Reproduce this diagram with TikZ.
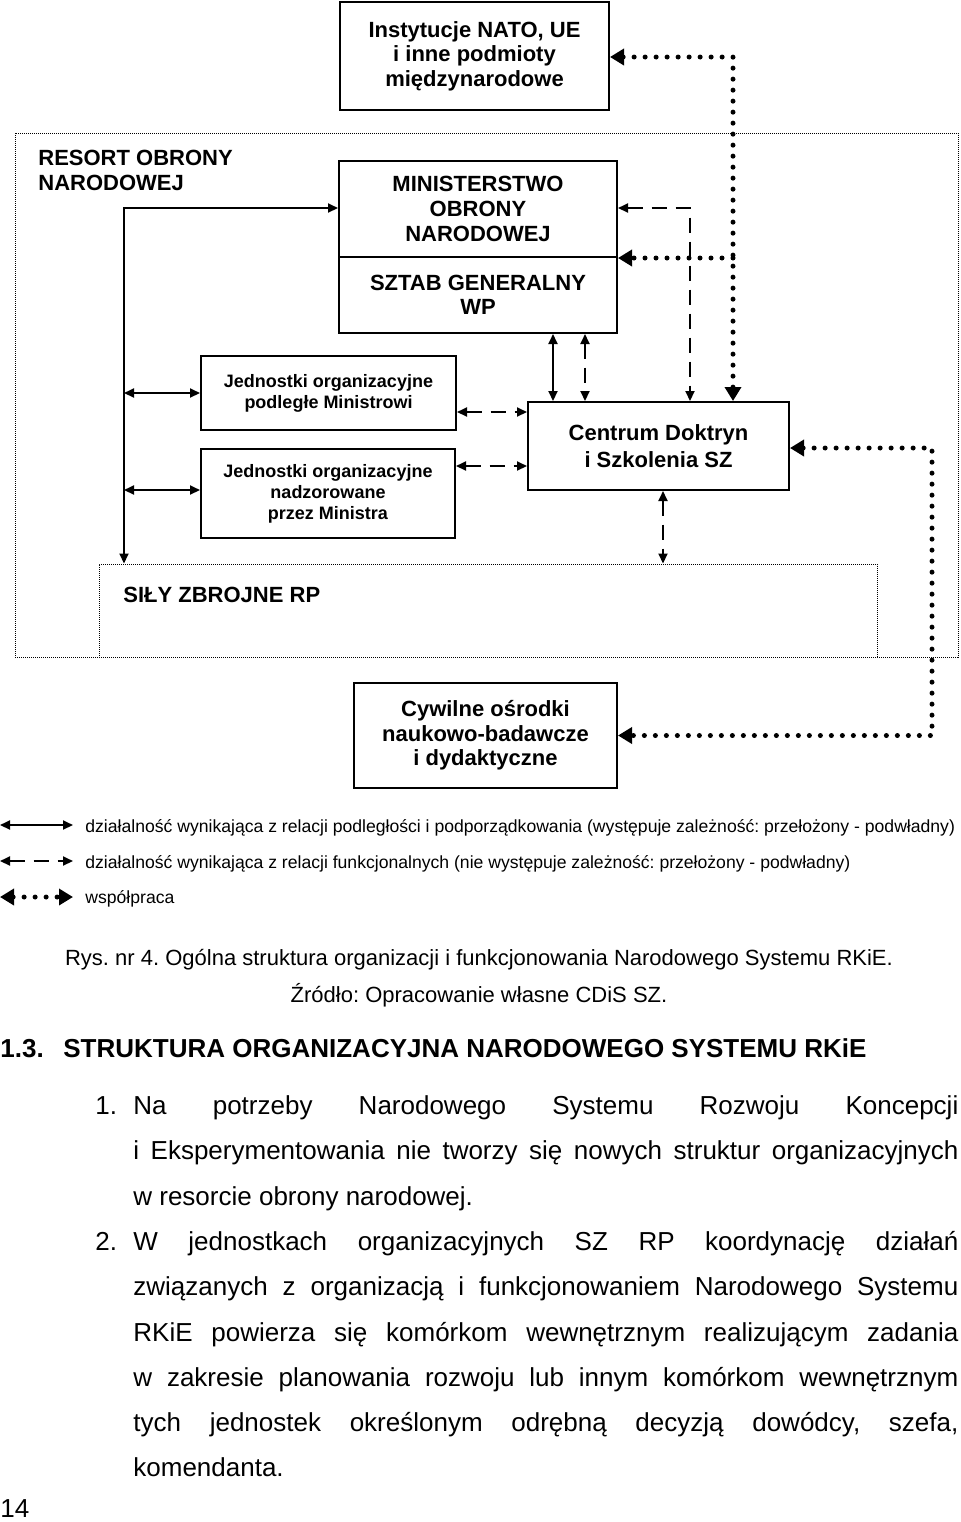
\documentclass[tikz,border=0pt]{standalone}
\usepackage{fontspec}
\setmainfont{Liberation Sans}
\usetikzlibrary{arrows.meta}
\frenchspacing

% one justified line of the running text
\newcommand{\jline}[1]{\makebox[412.5pt][s]{#1}}

\begin{document}
\begin{tikzpicture}[x=0.5pt, y=-0.5pt, >={Triangle[length=5pt,width=4.5pt]},
    box/.style={draw, line width=1pt, inner sep=0pt, align=center, font=\bfseries\fontsize{11}{12.3}\selectfont},
    unitbox/.style={box, font=\bfseries\fontsize{9}{10.5}\selectfont},
    area/.style={draw=black, line width=0.5pt, dash pattern=on 0.5pt off 0.5pt, inner sep=0pt},
    sub/.style={line width=1pt},
    fun/.style={line width=1pt, dash pattern=on 7.5pt off 4.5pt},
    coop/.style={line width=2.5pt, line cap=round, dash pattern=on 0pt off 5.5pt, >={Triangle[length=7pt,width=8pt]}},
    legtext/.style={anchor=base west, inner sep=0pt, font=\fontsize{8.8}{10}\selectfont},
    bodyline/.style={anchor=base west, inner sep=0pt, font=\fontsize{13}{15}\selectfont}]

    % page size
    \useasboundingbox (0,0) rectangle (960,1522);

    % Resort area and armed forces area (thin dotted frames)
    \node[area, minimum width=471.5pt, minimum height=262pt] (resort) at (486.5,395) {};
    \node[area, minimum width=389pt, minimum height=46.5pt] (sz) at (488,610.5) {};
    \node[anchor=base west, inner sep=0pt, align=left, font=\bfseries\fontsize{11}{12.3}\selectfont] (resortlabel) at (38,190) {RESORT OBRONY\\NARODOWEJ};
    \node[anchor=base west, inner sep=0pt, font=\bfseries\fontsize{11}{12.3}\selectfont] (szlabel) at (123,602) {SIŁY ZBROJNE RP};

    % Boxes
    \node[box, minimum width=134.5pt, minimum height=54pt] (nato) at (474.5,56) {Instytucje NATO, UE\\i inne podmioty\\międzynarodowe};
    \node[box, minimum width=139pt, minimum height=48pt] (mon) at (478,209) {MINISTERSTWO\\OBRONY\\NARODOWEJ};
    \node[box, minimum width=139pt, minimum height=38pt] (sgwp) at (478,295) {SZTAB GENERALNY\\WP};
    \node[unitbox, minimum width=127.5pt, minimum height=37pt] (jopm) at (328.5,393) {Jednostki organizacyjne\\podległe Ministrowi};
    \node[unitbox, minimum width=127pt, minimum height=44.5pt] (jonm) at (328,493.5) {Jednostki organizacyjne\\nadzorowane\\przez Ministra};
    \node[box, font=\bfseries\fontsize{11}{13.5}\selectfont, minimum width=130.5pt, minimum height=44pt] (cdis) at (658.5,446) {Centrum Doktryn\\i Szkolenia SZ};
    \node[box, minimum width=131.5pt, minimum height=52.5pt] (cyw) at (485.5,735.5) {Cywilne ośrodki\\naukowo-badawcze\\i dydaktyczne};

    % Bend points of the connectors
    \coordinate (lbus) at (124,208);
    \coordinate (lj2) at (124,490);
    \coordinate (fj1) at (456,412);
    \coordinate (fj2) at (456,466);
    \coordinate (sc1) at (553,0);
    \coordinate (sc2) at (585,0);
    \coordinate (fbus) at (690,208);
    \coordinate (cbus) at (733,57);
    \coordinate (rbus) at (932,448);
    \coordinate (cs) at (663,0);

    % Subordination (solid)
    \draw[sub, <->] (mon.west |- lbus) -- (lbus) -- (lbus |- sz.north);
    \draw[sub, <->] (lbus |- jopm.west) -- (jopm.west);
    \draw[sub, <->] (lj2) -- (lj2 -| jonm.west);
    \draw[sub, <->] (sc1 |- sgwp.south) -- (sc1 |- cdis.north);

    % Functional relations (dashed)
    \draw[fun, <->] (fj1 -| jopm.east) -- (fj1 -| cdis.west);
    \draw[fun, <->] (fj2 -| jonm.east) -- (fj2 -| cdis.west);
    \draw[fun, <->] (sc2 |- sgwp.south) -- (sc2 |- cdis.north);
    \draw[fun, <->] (fbus -| mon.east) -- (fbus) -- (fbus |- cdis.north);
    \draw[fun, <->] (cs |- cdis.south) -- (cs |- sz.north);

    % Cooperation (dotted)
    \draw[coop, <->] (cbus -| nato.east) -- (cbus) -- (cbus |- cdis.north);
    \draw[coop, ->] (cbus |- mon.south) -- (mon.south east);
    \draw[coop, <->] (rbus -| cdis.east) -- (rbus) -- (rbus |- cyw.east) -- (cyw.east);

    % Legend
    \coordinate (lega) at (0,825);
    \coordinate (legb) at (0,861);
    \coordinate (legc) at (0,897);
    \draw[sub, <->] (lega) -- ++(73,0);
    \draw[fun, <->] (legb) -- ++(73,0);
    \draw[coop, <->] (legc) -- ++(73,0);
    \node[legtext] (leg1) at (85,832) {działalność wynikająca z relacji podległości i podporządkowania (występuje zależność: przełożony - podwładny)};
    \node[legtext] (leg2) at (85,868) {działalność wynikająca z relacji funkcjonalnych (nie występuje zależność: przełożony - podwładny)};
    \node[legtext] (leg3) at (85,903) {współpraca};

    % Caption
    \node[anchor=base, inner sep=0pt, font=\fontsize{11}{13}\selectfont] (cap1) at (479,965) {Rys. nr 4. Ogólna struktura organizacji i funkcjonowania Narodowego Systemu RKiE.};
    \node[anchor=base, inner sep=0pt, font=\fontsize{11}{13}\selectfont] (cap2) at (479,1002) {Źródło: Opracowanie własne CDiS SZ.};

    % Section heading
    \node[anchor=base west, inner sep=0pt, font=\bfseries\fontsize{13}{15}\selectfont] (secno) at (0,1057) {1.3.};
    \node[anchor=base west, inner sep=0pt, font=\bfseries\fontsize{13}{15}\selectfont] (sectitle) at (63,1057) {STRUKTURA ORGANIZACYJNA NARODOWEGO SYSTEMU RKiE};

    % Running text
    \node[bodyline] (n1) at (95,1114) {1.};
    \node[bodyline] (t1) at (133,1114) {\jline{Na potrzeby Narodowego Systemu Rozwoju Koncepcji}};
    \node[bodyline] (t2) at (133,1159.5) {\jline{i Eksperymentowania nie tworzy się nowych struktur organizacyjnych}};
    \node[bodyline] (t3) at (133,1205) {w resorcie obrony narodowej.};
    \node[bodyline] (n2) at (95,1250) {2.};
    \node[bodyline] (t4) at (133,1250) {\jline{W jednostkach organizacyjnych SZ RP koordynację działań}};
    \node[bodyline] (t5) at (133,1295.5) {\jline{związanych z organizacją i funkcjonowaniem Narodowego Systemu}};
    \node[bodyline] (t6) at (133,1341) {\jline{RKiE powierza się komórkom wewnętrznym realizującym zadania}};
    \node[bodyline] (t7) at (133,1386) {\jline{w zakresie planowania rozwoju lub innym komórkom wewnętrznym}};
    \node[bodyline] (t8) at (133,1431) {\jline{tych jednostek określonym odrębną decyzją dowódcy, szefa,}};
    \node[bodyline] (t9) at (133,1476.5) {komendanta.};

    % Page number
    \node[bodyline] (pageno) at (0,1517) {14};

\end{tikzpicture}
\end{document}
